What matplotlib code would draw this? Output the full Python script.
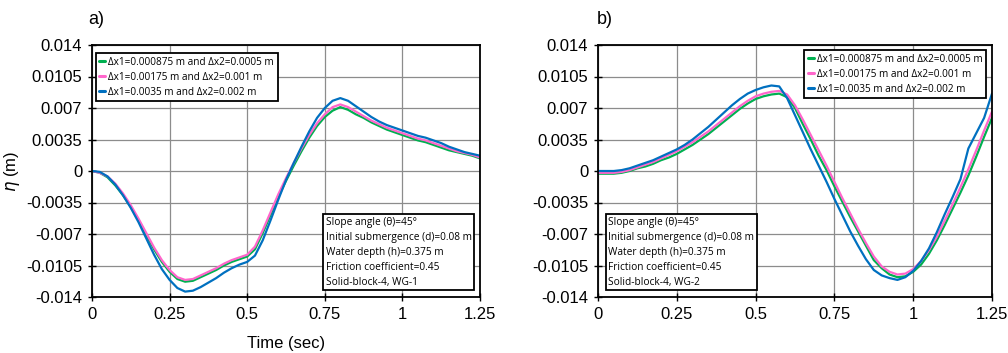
import numpy as np
import matplotlib
matplotlib.use('Agg')
import matplotlib.pyplot as plt
from matplotlib.ticker import FixedLocator, FixedFormatter

# sampling times (s)
tempo = np.round(np.arange(0, 1.2501, 0.025), 3)

# WG-1 surface elevation (m)
wg1_fino = [0, -0.0002, -0.0007, -0.0016, -0.0027, -0.0040, -0.0055, -0.0071, -0.0087, -0.0101,
            -0.0112, -0.0120, -0.0123, -0.0122, -0.0118, -0.0114, -0.0110, -0.0105, -0.0101, -0.0098,
            -0.0095, -0.0087, -0.0069, -0.0049, -0.0029, -0.0011, 0.0006, 0.0022, 0.0037, 0.0050,
            0.0060, 0.0067, 0.0071, 0.0068, 0.0063, 0.0059, 0.0054, 0.0050, 0.0046, 0.0043,
            0.0040, 0.0037, 0.0034, 0.0032, 0.0029, 0.0026, 0.0023, 0.0021, 0.0019, 0.0017, 0.0014]
wg1_medio = [0, -0.0002, -0.0006, -0.0014, -0.0025, -0.0038, -0.0053, -0.0069, -0.0085, -0.0099,
             -0.0110, -0.0118, -0.0121, -0.0120, -0.0116, -0.0112, -0.0108, -0.0103, -0.0099, -0.0096,
             -0.0093, -0.0084, -0.0066, -0.0046, -0.0026, -0.0008, 0.0009, 0.0025, 0.0040, 0.0053,
             0.0063, 0.0071, 0.0074, 0.0071, 0.0066, 0.0061, 0.0056, 0.0052, 0.0048, 0.0045,
             0.0042, 0.0039, 0.0036, 0.0034, 0.0031, 0.0028, 0.0025, 0.0022, 0.0020, 0.0018, 0.0015]
wg1_grosso = [0, -0.0001, -0.0006, -0.0015, -0.0027, -0.0041, -0.0057, -0.0075, -0.0093, -0.0109,
              -0.0121, -0.0130, -0.0134, -0.0133, -0.0129, -0.0124, -0.0119, -0.0113, -0.0108, -0.0104,
              -0.0101, -0.0094, -0.0077, -0.0055, -0.0032, -0.0010, 0.0009, 0.0027, 0.0044, 0.0059,
              0.0070, 0.0078, 0.0081, 0.0078, 0.0072, 0.0066, 0.0060, 0.0055, 0.0051, 0.0048,
              0.0045, 0.0042, 0.0039, 0.0037, 0.0034, 0.0031, 0.0027, 0.0024, 0.0021, 0.0019, 0.0017]

# WG-2 surface elevation (m)
wg2_fino = [-0.0003, -0.0003, -0.0003, -0.0002, 0.0000, 0.0003, 0.0005, 0.0008, 0.0012, 0.0015,
            0.0019, 0.0024, 0.0029, 0.0035, 0.0041, 0.0048, 0.0055, 0.0062, 0.0069, 0.0075,
            0.0080, 0.0083, 0.0085, 0.0086, 0.0082, 0.0070, 0.0052, 0.0035, 0.0017, 0.0001,
            -0.0017, -0.0034, -0.0051, -0.0067, -0.0083, -0.0099, -0.0108, -0.0115, -0.0118, -0.0117,
            -0.0112, -0.0104, -0.0092, -0.0077, -0.0060, -0.0042, -0.0024, -0.0005, 0.0016, 0.0038, 0.0059]
wg2_medio = [-0.0002, -0.0002, -0.0002, -0.0001, 0.0001, 0.0004, 0.0007, 0.0010, 0.0014, 0.0018,
             0.0022, 0.0027, 0.0032, 0.0038, 0.0044, 0.0051, 0.0058, 0.0065, 0.0072, 0.0078,
             0.0083, 0.0086, 0.0088, 0.0089, 0.0085, 0.0073, 0.0057, 0.0040, 0.0023, 0.0006,
             -0.0012, -0.0030, -0.0047, -0.0064, -0.0080, -0.0095, -0.0106, -0.0112, -0.0115, -0.0114,
             -0.0109, -0.0100, -0.0088, -0.0073, -0.0055, -0.0037, -0.0018, 0.0002, 0.0023, 0.0045, 0.0066]
wg2_grosso = [0.0000, 0.0000, 0.0000, 0.0001, 0.0003, 0.0006, 0.0009, 0.0012, 0.0016, 0.0020,
              0.0024, 0.0029, 0.0035, 0.0042, 0.0049, 0.0057, 0.0065, 0.0073, 0.0080, 0.0086,
              0.0090, 0.0093, 0.0095, 0.0094, 0.0081, 0.0062, 0.0043, 0.0024, 0.0006, -0.0012,
              -0.0031, -0.0049, -0.0067, -0.0083, -0.0098, -0.0110, -0.0116, -0.0119, -0.0121, -0.0118,
              -0.0111, -0.0100, -0.0086, -0.0068, -0.0048, -0.0029, -0.0009, 0.0025, 0.0042, 0.0059, 0.0086]

rotulos_serie = ['Δx1=0.000875 m and Δx2=0.0005 m',
                 'Δx1=0.00175 m and Δx2=0.001 m',
                 'Δx1=0.0035 m and Δx2=0.002 m']
cores = ['#00B050', '#FF66CC', '#0070C0']

yticks = [0.014, 0.0105, 0.007, 0.0035, 0, -0.0035, -0.007, -0.0105, -0.014]
ytick_labels = ['0.014', '0.0105', '0.007', '0.0035', '0', '-0.0035', '-0.007', '-0.0105', '-0.014']
xticks = [0, 0.25, 0.5, 0.75, 1, 1.25]
xtick_labels = ['0', '0.25', '0.5', '0.75', '1', '1.25']

info_wg1 = ('Slope angle (θ)=45°\nInitial submergence (d)=0.08 m\nWater depth (h)=0.375 m\n'
            'Friction coefficient=0.45\nSolid-block-4, WG-1')
info_wg2 = ('Slope angle (θ)=45°\nInitial submergence (d)=0.08 m\nWater depth (h)=0.375 m\n'
            'Friction coefficient=0.45\nSolid-block-4, WG-2')

plt.rcParams['font.family'] = ['Liberation Sans', 'DejaVu Sans']

fig = plt.figure(figsize=(10.08, 3.53), dpi=100)
ax1 = fig.add_axes([92 / 1008, 56 / 353, 388 / 1008, 252 / 353])
ax2 = fig.add_axes([598 / 1008, 56 / 353, 394 / 1008, 252 / 353])


def desenha(ax, series, info, leg_pos, leg_loc, info_pos):
    for serie, cor, rot in zip(series, cores, rotulos_serie):
        ax.plot(tempo, serie, color=cor, lw=1.6, label=rot, solid_capstyle='round')
    ax.set_xlim(0, 1.25)
    ax.set_ylim(-0.014, 0.014)
    ax.yaxis.set_major_locator(FixedLocator(yticks))
    ax.yaxis.set_major_formatter(FixedFormatter(ytick_labels))
    ax.xaxis.set_major_locator(FixedLocator(xticks))
    ax.xaxis.set_major_formatter(FixedFormatter(xtick_labels))
    ax.grid(True, color='#8c8c8c', lw=0.9)
    ax.set_axisbelow(True)
    for sp in ax.spines.values():
        sp.set_linewidth(1.3)
        sp.set_color('black')
    ax.tick_params(direction='inout', length=6, width=1, labelsize=12, pad=4, colors='black')
    leg = ax.legend(loc=leg_loc, bbox_to_anchor=leg_pos, borderaxespad=0,
                    prop={'family': 'Open Sans', 'size': 7.2}, handlelength=0.6,
                    handletextpad=0.3, labelspacing=0.4, borderpad=0.35,
                    fancybox=False, framealpha=1, edgecolor='black')
    leg.get_frame().set_linewidth(1.3)
    for ln in leg.get_lines():
        ln.set_linewidth(2.2)
    ax.text(info_pos[0], info_pos[1], info, transform=ax.transAxes, va='top', ha='left',
            family='Open Sans', fontsize=7.3, linespacing=1.5,
            bbox=dict(boxstyle='square,pad=0.25', fc='white', ec='black', lw=1.3))


desenha(ax1, [wg1_fino, wg1_medio, wg1_grosso], info_wg1, (0.0103, 0.968), 'upper left', (0.603, 0.318))
desenha(ax2, [wg2_fino, wg2_medio, wg2_grosso], info_wg2, (0.985, 0.980), 'upper right', (0.026, 0.318))

ax1.set_ylabel(r'$\eta$ (m)', fontsize=12, labelpad=3)
ax1.set_xlabel('Time (sec)', fontsize=12, labelpad=10)

fig.text(88 / 1008, 1 - 19 / 353, 'a)', fontsize=13, va='center', ha='left')
fig.text(597 / 1008, 1 - 19 / 353, 'b)', fontsize=13, va='center', ha='left')

fig.savefig('out.png', dpi=100)
